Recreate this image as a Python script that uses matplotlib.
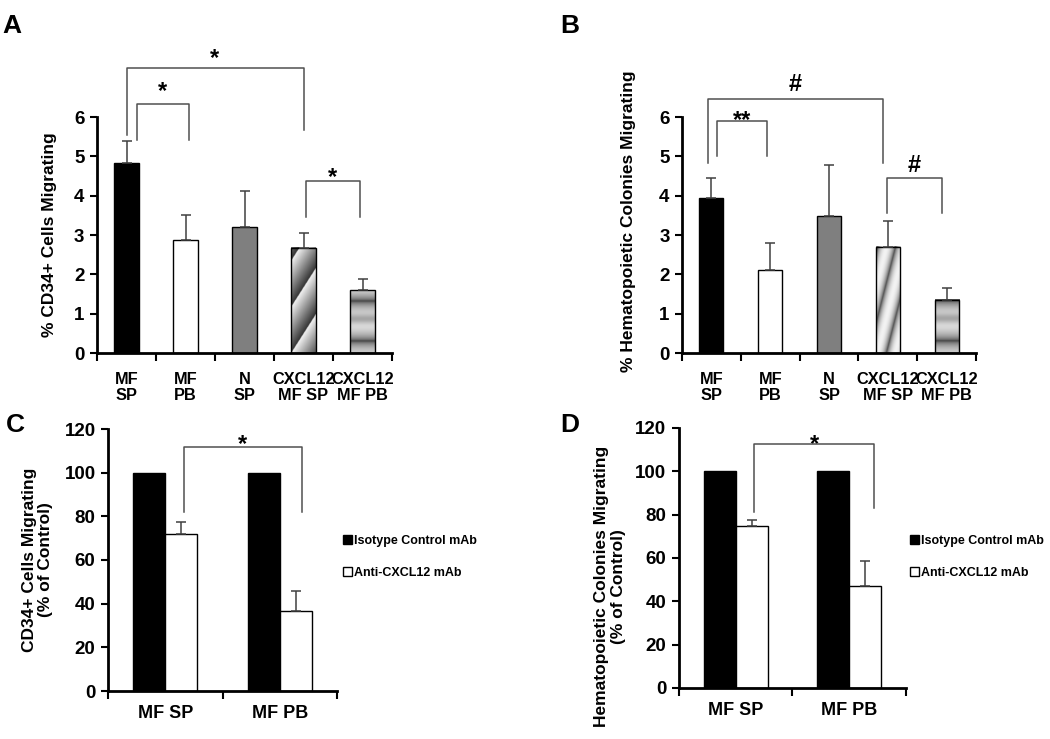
import numpy as np
import matplotlib
matplotlib.use('Agg')
import matplotlib.pyplot as plt

plt.rcParams['font.family'] = ['Liberation Sans', 'DejaVu Sans']
plt.rcParams['font.weight'] = 'bold'

# panels A / B : five groups
groups_ab = ['MF\nSP', 'MF\nPB', 'N\nSP', 'CXCL12\nMF SP', 'CXCL12\nMF PB']
cd34_pct = [4.83, 2.88, 3.20, 2.68, 1.60]
cd34_err = [0.57, 0.64, 0.93, 0.37, 0.28]
col_pct = [3.95, 2.10, 3.48, 2.70, 1.35]
col_err = [0.50, 0.70, 1.30, 0.65, 0.30]

# panels C / D : anti-CXCL12 blocking
groups_cd = ['MF SP', 'MF PB']
legend_labels = ['Isotype Control mAb', 'Anti-CXCL12 mAb']
cd34_iso = [100, 100]
cd34_anti = [72.0, 36.8]
cd34_anti_err = [5.5, 9.2]
col_iso = [100, 100]
col_anti = [75.0, 47.0]
col_anti_err = [2.5, 11.5]

# significance brackets: x_left, x_right, top, left foot, right foot, label, label centre
sig_a = [(0.00, 3.00, 7.25, 5.55, 5.67, '*', 7.66),
         (0.17, 1.06, 6.33, 5.42, 5.42, '*', 6.82),
         (3.05, 3.95, 4.37, 3.46, 3.46, '*', 4.63)]
sig_b = [(-0.06, 2.91, 6.46, 4.83, 4.83, '#', 6.87),
         (0.09, 0.94, 5.90, 5.00, 5.00, '**', 6.10),
         (2.99, 3.92, 4.45, 3.56, 3.56, '#', 4.83)]
sig_c = [(0.16, 1.19, 111.8, 82.0, 82.0, '*', 115.9)]
sig_d = [(0.16, 1.22, 112.6, 81.2, 83.0, '*', 115.8)]

fig = plt.figure(figsize=(10.5, 7.39), dpi=100)
W, H = 1050.0, 739.0


def add_ax(left, right, bottom, top):
    return fig.add_axes([left / W, 1 - bottom / H, (right - left) / W, (bottom - top) / H])


def style(ax):
    for s in ['top', 'right']:
        ax.spines[s].set_visible(False)
    for s in ['left', 'bottom']:
        ax.spines[s].set_linewidth(2)
    ax.tick_params(axis='y', length=5, width=1.5, labelsize=13.5, pad=4)
    ax.tick_params(axis='x', which='major', length=6, width=1.5, labelbottom=False)
    ax.tick_params(axis='x', which='minor', length=0, labelsize=11.8, pad=14)


def pattern(ax, bar, kind):
    x0, w, h = bar.get_x(), bar.get_width(), bar.get_height()
    # rough pixel grid for the bar
    pw = 24.0
    ph = h * 39.3
    xx, yy = np.meshgrid(np.linspace(0, pw, 60), np.linspace(0, ph, 300))
    if kind == 'diag_a':
        s = ((yy - 1.6 * xx) / 46.0) % 1.0
        img = 0.2 + 0.75 * s
    elif kind == 'diag_b':
        s = ((yy - 4.0 * xx + 40) / 70.0) % 1.0
        img = 0.25 + 0.7 * np.abs(np.sin(np.pi * s)) ** 0.6
    else:
        s = ((yy - 12.0) / 40.0) % 1.0
        img = 0.2 + 0.7 * np.abs(np.sin(np.pi * s)) ** 0.5
        img = img - 0.25 * np.exp(-((s - 0.55) / 0.12) ** 2)
    ax.imshow(img, extent=[x0, x0 + w, 0, h], origin='lower', cmap='gray',
              vmin=0, vmax=1, aspect='auto', zorder=1.5, interpolation='bilinear')


def brackets(ax, sigs):
    fs = 17
    for xl, xr, top, fl, fr, lab, ly in sigs:
        ax.plot([xl, xl, xr, xr], [fl, top, top, fr], color='#505050', lw=1.1,
                clip_on=False, zorder=4)
        k = 0.57 if '*' in lab else 0.36
        ax.annotate(lab, ((xl + xr) / 2, ly), xytext=(0, -k * fs), textcoords='offset points',
                    ha='center', va='baseline', fontsize=fs, fontweight='bold',
                    annotation_clip=False)


def panel_ab(ax, vals, errs, sigs, diag):
    x = np.arange(len(vals))
    faces = ['black', 'white', '#7f7f7f', 'none', 'none']
    bars = ax.bar(x, vals, width=0.41, color=faces, edgecolor='black', linewidth=1, zorder=2)
    pattern(ax, bars[3], diag)
    pattern(ax, bars[4], 'hband')
    ax.errorbar(x, vals, yerr=[np.zeros(len(errs)), errs], fmt='none', ecolor='#404040',
                elinewidth=1.1, capsize=3.5, capthick=1.1, zorder=3)
    ax.set_xlim(-0.5, len(vals) - 0.5)
    ax.set_ylim(0, 6)
    ax.set_yticks(range(0, 7))
    ax.set_xticks(np.arange(-0.5, len(vals)))
    ax.set_xticks(x, minor=True)
    ax.set_xticklabels(groups_ab, minor=True, linespacing=1.05)
    style(ax)
    brackets(ax, sigs)


def panel_cd(ax, iso, anti, err, sigs, legx):
    x = np.arange(len(iso))
    ax.bar(x - 0.14, iso, width=0.28, color='black', edgecolor='black', linewidth=1,
           zorder=2, label=legend_labels[0])
    ax.bar(x + 0.14, anti, width=0.28, color='white', edgecolor='black', linewidth=1,
           zorder=2, label=legend_labels[1])
    ax.errorbar(x + 0.14, anti, yerr=[np.zeros(len(err)), err], fmt='none',
                ecolor='#404040', elinewidth=1.1, capsize=3.5, capthick=1.1, zorder=3)
    ax.set_xlim(-0.5, len(iso) - 0.5)
    ax.set_ylim(0, 120)
    ax.set_yticks(range(0, 121, 20))
    ax.set_xticks(np.arange(-0.5, len(iso)))
    ax.set_xticks(x, minor=True)
    ax.set_xticklabels(groups_cd, minor=True)
    style(ax)
    ax.tick_params(axis='x', which='minor', labelsize=13, pad=10)
    brackets(ax, sigs)
    ax.legend(loc='center left', bbox_to_anchor=(legx / W, 1 - 557 / H),
              bbox_transform=fig.transFigure, frameon=False, fontsize=9,
              handlelength=0.7, handleheight=0.7, handletextpad=0.15,
              labelspacing=1.6, borderpad=0)


ax_a = add_ax(97, 392, 353, 117)
panel_ab(ax_a, cd34_pct, cd34_err, sig_a, 'diag_a')
ax_a.set_ylabel('% CD34+ Cells Migrating', fontsize=12.5, fontweight='bold', labelpad=12)

ax_b = add_ax(682, 976, 353, 117)
panel_ab(ax_b, col_pct, col_err, sig_b, 'diag_b')
ax_b.set_ylabel('% Hematopoietic Colonies Migrating', fontsize=12.5, fontweight='bold')
ax_b.yaxis.set_label_coords(-0.155, 0.56)

ax_c = add_ax(108, 337, 691, 429)
panel_cd(ax_c, cd34_iso, cd34_anti, cd34_anti_err, sig_c, 337)
ax_c.set_ylabel('CD34+ Cells Migrating\n(% of Control)', fontsize=12.5, fontweight='bold',
                labelpad=8, linespacing=1.1)

ax_d = add_ax(679, 906, 688, 428)
panel_cd(ax_d, col_iso, col_anti, col_anti_err, sig_d, 904)
ax_d.set_ylabel('Hematopoietic Colonies Migrating\n(% of Control)', fontsize=12.5,
                fontweight='bold', linespacing=1.1)
ax_d.yaxis.set_label_coords(-0.235, 0.39)

for lab, (px, py) in zip('ABCD', [(12, 26), (570, 26), (15, 425), (570, 425)]):
    fig.text(px / W, 1 - py / H, lab, fontsize=19, fontweight='bold', ha='center', va='center')

fig.savefig('out.png', dpi=100)
